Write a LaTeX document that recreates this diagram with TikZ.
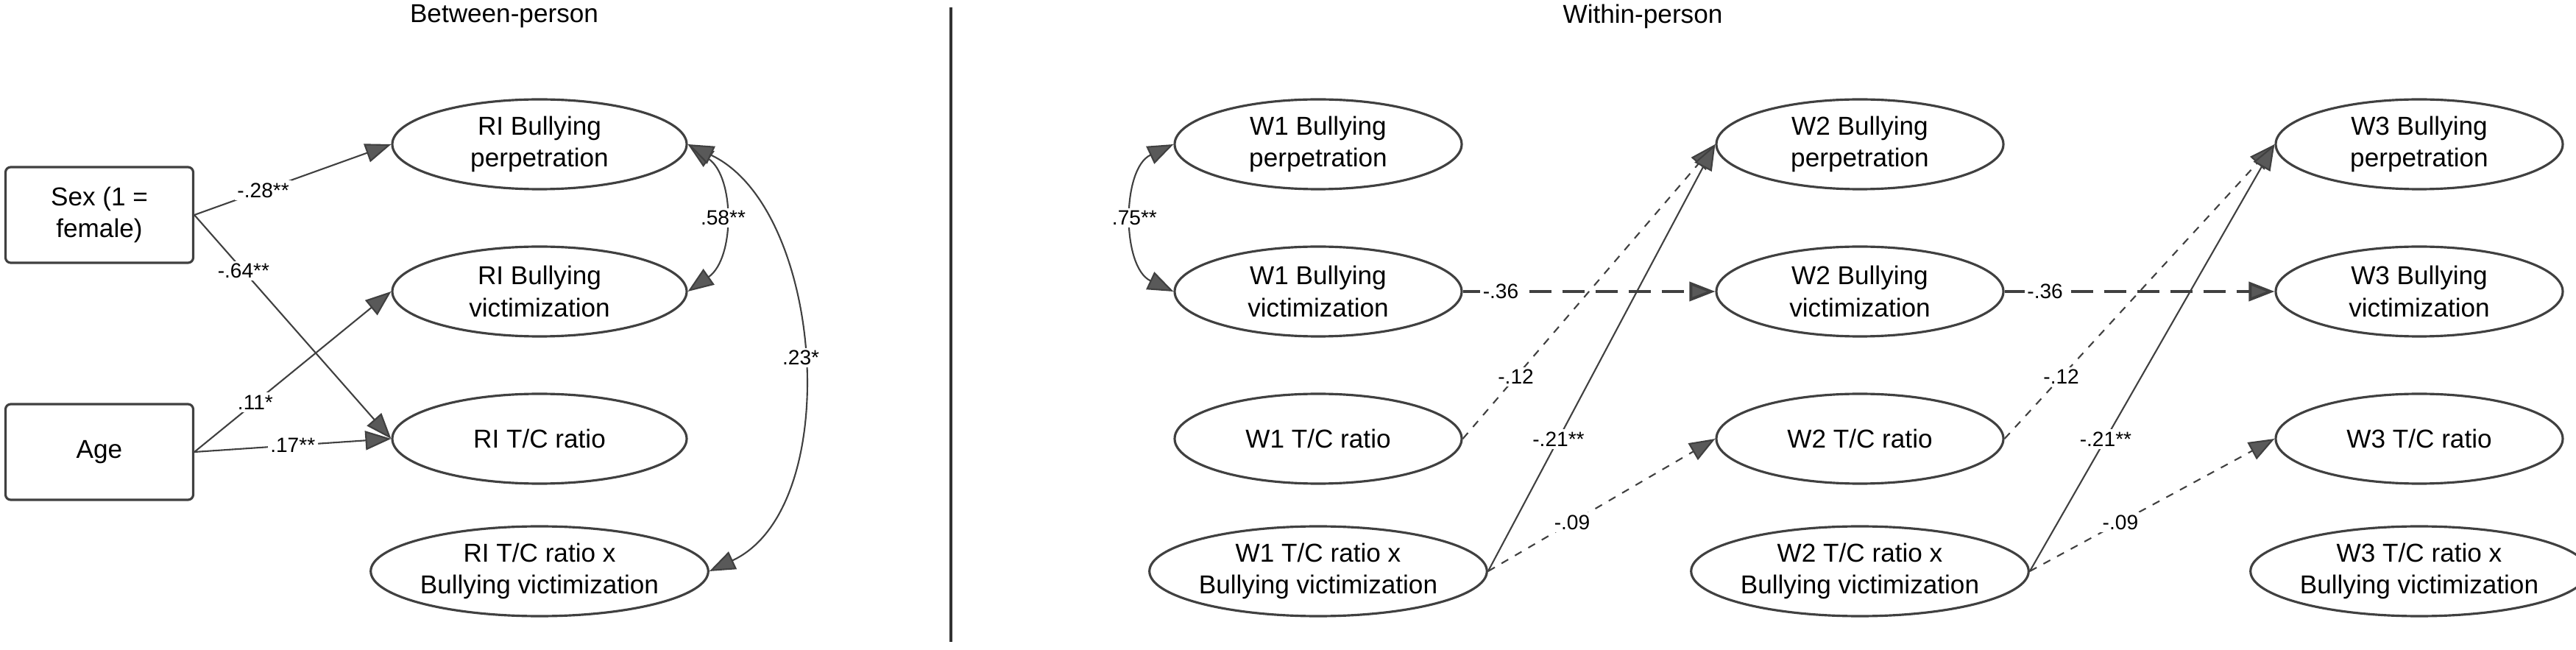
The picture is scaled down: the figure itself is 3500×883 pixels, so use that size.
\documentclass[tikz,border=0pt]{standalone}
\usepackage{fontspec}
\setmainfont{Liberation Sans}
\usetikzlibrary{arrows.meta,positioning,shapes.geometric}

\begin{document}
\begin{tikzpicture}[x=0.1mm,y=-0.1mm,
            var/.style={draw=black!75,line width=.9pt,ellipse,minimum width=3.9cm,minimum height=1.22cm,inner sep=0pt,align=center,font=\fontsize{10}{12.4}\selectfont},
            obs/.style={draw=black!75,line width=.9pt,rectangle,rounded corners=2pt,minimum width=2.55cm,minimum height=1.3cm,align=center,font=\fontsize{10}{12.4}\selectfont},
            coef/.style={fill=white,inner sep=1pt,font=\fontsize{8}{9}\selectfont},
            path/.style={draw=black!75,line width=.6pt,-{Triangle[length=3.5mm,width=2.6mm,fill=black!65]}},
            both/.style={path,{Triangle[length=3.5mm,width=2.6mm,fill=black!65]}-{Triangle[length=3.5mm,width=2.6mm,fill=black!65]}},
            dpath/.style={path,dashed},
            lpath/.style={path,line width=1.1pt,dash pattern=on 3mm off 1.5mm}
          ]
          \useasboundingbox (0,0) rectangle (3500,883);

          %titles
          \node[font=\fontsize{10}{12}\selectfont] (tb) at (685,22) {Between-person};
          \node[font=\fontsize{10}{12}\selectfont] (tw) at (2232,22) {Within-person};
          \draw[black!80,line width=.9pt] (1292,10) -- (1292,872);

          %between-person
          \node[obs] (sex) at (135,292) {Sex (1 =\\female)};
          \node[obs] (age) at (135,614) {Age};
          \node[var,minimum width=4cm] (rip) at (733,196) {RI Bullying\\perpetration};
          \node[var,minimum width=4cm] (riv) at (733,396) {RI Bullying\\victimization};
          \node[var,minimum width=4cm] (rit) at (733,596) {RI T/C ratio};
          \node[var,minimum width=4cm] (rix) at (733,776) {RI T/C ratio x\\Bullying victimization};

          \path[path] (sex.east) -- node[coef,pos=.35] {-.28**} (rip.west);
          \path[path] (sex.east) -- node[coef,pos=.25] {-.64**} (rit.west);
          \path[path] (age.east) -- node[coef,pos=.31] {.11*} (riv.west);
          \path[path] (age.east) -- node[coef,pos=.5] {.17**} (rit.west);
          \path[both] (rip.east) to[out=-35,in=35] node[coef] {.58**} (riv.east);
          \path[both] (rip.east) to[out=-25,in=25,looseness=.9] node[coef] {.23*} (rix.east);

          %within-person
          \foreach \w/\x in {1/1791,2/2527,3/3287} {
            \node[var] (p\w) at (\x,196) {W\w\ Bullying\\perpetration};
            \node[var] (v\w) at (\x,396) {W\w\ Bullying\\victimization};
            \node[var] (t\w) at (\x,596) {W\w\ T/C ratio};
            \node[var] (x\w) at (\x,776) {W\w\ T/C ratio x\\Bullying victimization};
          }
          \path[both] (p1.west) to[out=205,in=155] node[coef] {.75**} (v1.west);

          \foreach \a/\b in {1/2,2/3} {
            \path[lpath] (v\a) -- node[coef,pos=.15] {-.36} (v\b);
            \path[dpath] (t\a.east) -- node[coef,pos=.21] {-.12} (p\b.west);
            \path[path] (x\a.east) -- node[coef,pos=.31] {-.21**} (p\b.west);
            \path[dpath] (x\a.east) -- node[coef,pos=.37] {-.09} (t\b.west);
          }
      \end{tikzpicture}
\end{document}
